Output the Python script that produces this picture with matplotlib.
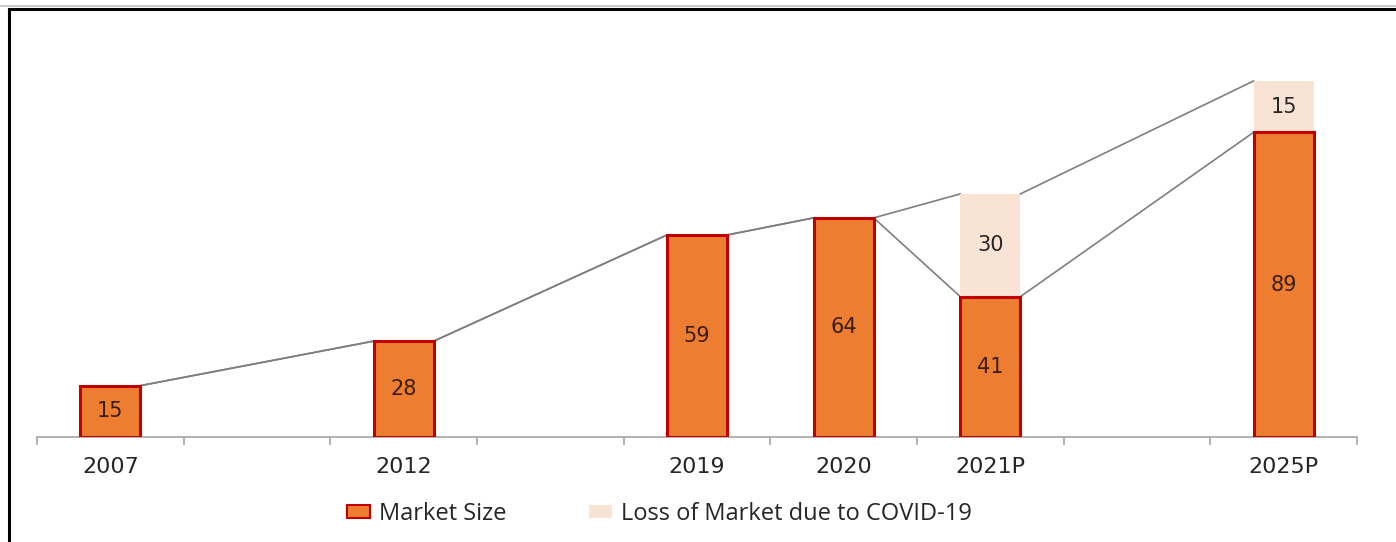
import numpy as np
import matplotlib.pyplot as plt
from matplotlib.lines import Line2D
from matplotlib.patches import Patch

years = ['2007', '', '2012', '', '2019', '2020', '2021P', '', '2025P']
market_size = [15, None, 28, None, 59, 64, 41, None, 89]
covid_loss = [0, None, 0, None, 0, 0, 30, None, 15]

orange = '#ed7d31'
edge_red = '#c00000'
light = '#f9e3d4'
line_grey = '#7f7f7f'

fig = plt.figure(figsize=(13.96, 5.42), dpi=100)
ax = fig.add_axes([37 / 1396, 105 / 542, 1320 / 1396, 404 / 542])

x = np.arange(len(years))
width = 0.41
shown = [i for i, v in enumerate(market_size) if v is not None]

for i in shown:
    m = market_size[i]
    l = covid_loss[i]
    ax.bar(i, m, width, color=orange, edgecolor=edge_red, linewidth=2.2, zorder=3)
    ax.text(i, m / 2, str(m), ha='center', va='center', fontsize=15,
            color='#3a1d0c', family='DejaVu Sans', zorder=5)
    if l > 0:
        ax.bar(i, l, width, bottom=m, color=light, linewidth=0, zorder=2)
        ax.text(i, m + l / 2, str(l), ha='center', va='center', fontsize=15,
                color='#262626', family='DejaVu Sans', zorder=5)

# series lines between neighbouring bars
for a, b in zip(shown[:-1], shown[1:]):
    x0, x1 = a + width / 2, b - width / 2
    ax.plot([x0, x1], [market_size[a], market_size[b]], color=line_grey, lw=1.2, zorder=1)
    top_a = market_size[a] + covid_loss[a]
    top_b = market_size[b] + covid_loss[b]
    ax.plot([x0, x1], [top_a, top_b], color=line_grey, lw=1.2, zorder=1)

ax.set_xlim(-0.5, len(years) - 0.5)
ax.set_ylim(0, 118)
ax.set_yticks([])
for s in ['left', 'right', 'top']:
    ax.spines[s].set_visible(False)
ax.spines['bottom'].set_color('#a6a6a6')
ax.spines['bottom'].set_linewidth(1.2)

ax.set_xticks(np.arange(len(years) + 1) - 0.5, minor=False)
ax.set_xticklabels([])
ax.tick_params(axis='x', length=6, color='#a6a6a6', width=1.2)
for i, yr in enumerate(years):
    if yr:
        ax.text(i, -0.075, yr, transform=ax.get_xaxis_transform(), ha='center',
                va='center', fontsize=16, color='#262626', family='DejaVu Sans')

handles = [Patch(facecolor=orange, edgecolor=edge_red, linewidth=1.5),
           Patch(facecolor=light, edgecolor='none')]
fig.legend(handles, ['Market Size', 'Loss of Market due to COVID-19'],
           loc='center left', bbox_to_anchor=(326 / 1396, 1 - 514 / 542), ncol=2,
           frameon=False, prop={'family': 'Open Sans', 'size': 17},
           handlelength=0.95, handleheight=0.5, handletextpad=0.4, columnspacing=3.5,
           labelcolor='#262626')

# outer frame, open on the right and bottom
fig.add_artist(Line2D([9 / 1396, 9 / 1396], [0, 1 - 9 / 542], color='black', lw=2.2,
                      transform=fig.transFigure))
fig.add_artist(Line2D([9 / 1396, 1], [1 - 9 / 542, 1 - 9 / 542], color='black', lw=2.2,
                      transform=fig.transFigure))
fig.add_artist(Line2D([0, 1], [1 - 6 / 542, 1 - 6 / 542], color='#bfbfbf', lw=1.2,
                      transform=fig.transFigure))

fig.savefig('out.png', dpi=100, facecolor='white')
